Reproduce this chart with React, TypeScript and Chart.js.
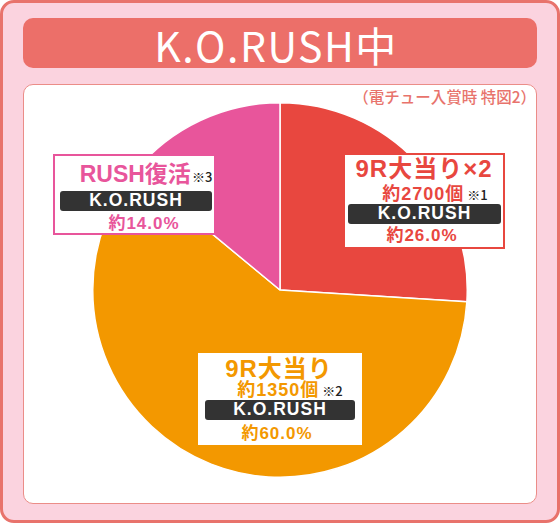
import { useEffect, useRef } from "react"
import { Chart, registerables } from "chart.js"

Chart.register(...registerables)

// Slices, clockwise from 12 o'clock
const categories = ["9R大当り×2", "9R大当り", "RUSH復活"]
const shares = [26.0, 60.0, 14.0]
const payouts = ["約2700個", "約1350個", ""]
const notes = ["※1", "※2", "※3"]
const modeLabel = "K.O.RUSH"
const sliceColors = ["#e8473f", "#f39800", "#e8559b"]

const JP = '"Noto Sans CJK JP", "Noto Sans", sans-serif'
const MIX = '"Liberation Sans", Arial, "Noto Sans CJK JP", sans-serif'

type LabelProps = {
  idx: number
  box: { left: number; top: number; width: number; height: number }
  border: string
  rows: { title: number; payout?: number; payoutX?: number; bar: number; share: number }
  cx: number
  barX: [number, number]
  titleSize: number
  titleSpacing: number
}

function SliceLabel({ idx, box, border, rows, cx, barX, titleSize, titleSpacing }: LabelProps) {
  const color = sliceColors[idx]
  const line = (y: number, x: number): React.CSSProperties => ({
    position: "absolute",
    left: x,
    top: y,
    transform: "translate(-50%, -50%)",
    lineHeight: 1,
    whiteSpace: "nowrap",
  })
  const note = { fontFamily: JP, fontSize: 13, color: "#222", fontWeight: 500, letterSpacing: 0 }
  return (
    <>
      <div
        style={{
          position: "absolute",
          left: box.left,
          top: box.top,
          width: box.width,
          height: box.height,
          background: "#fff",
          border: `2px solid ${border}`,
          boxSizing: "border-box",
        }}
      />
      <div
        style={{
          ...line(rows.title, cx),
          fontFamily: MIX,
          fontWeight: 700,
          fontSize: titleSize,
          color,
          letterSpacing: titleSpacing,
        }}
      >
        {categories[idx]}
        {payouts[idx] === "" && <span style={{ ...note, marginLeft: 1 }}>{notes[idx]}</span>}
      </div>
      {payouts[idx] !== "" && rows.payout !== undefined && (
        <div
          style={{
            ...line(rows.payout, rows.payoutX ?? cx),
            fontFamily: MIX,
            fontWeight: 700,
            fontSize: 18,
            color,
            letterSpacing: 1,
          }}
        >
          {payouts[idx]}
          <span style={{ ...note, marginLeft: 3 }}>{notes[idx]}</span>
        </div>
      )}
      <div
        style={{
          position: "absolute",
          left: barX[0],
          top: rows.bar - 10,
          width: barX[1] - barX[0],
          height: 20,
          background: "#333333",
          borderRadius: 3,
        }}
      />
      <div
        style={{
          ...line(rows.bar, (barX[0] + barX[1]) / 2),
          fontFamily: MIX,
          fontWeight: 700,
          fontSize: 17.5,
          color: "#fff",
          letterSpacing: 1,
        }}
      >
        {modeLabel}
      </div>
      <div
        style={{
          ...line(rows.share, cx - 2),
          fontFamily: MIX,
          fontWeight: 700,
          fontSize: 17,
          color,
          letterSpacing: 1,
        }}
      >
        約{shares[idx].toFixed(1)}%
      </div>
    </>
  )
}

export default function App() {
  const chartRef = useRef<HTMLCanvasElement>(null)
  const chartInstance = useRef<Chart | null>(null)

  useEffect(() => {
    if (!chartRef.current) return
    if (chartInstance.current) chartInstance.current.destroy()

    chartInstance.current = new Chart(chartRef.current, {
      type: "pie",
      data: {
        labels: categories,
        datasets: [
          {
            data: shares,
            backgroundColor: sliceColors,
            borderColor: "#ffffff",
            borderWidth: 1.5,
          },
        ],
      },
      options: {
        animation: false,
        responsive: false,
        maintainAspectRatio: false,
        layout: { padding: 0 },
        plugins: {
          legend: { display: false },
          tooltip: { enabled: false },
        },
      },
    })

    return () => {
      if (chartInstance.current) {
        chartInstance.current.destroy()
        chartInstance.current = null
      }
    }
  }, [])

  return (
    <div
      style={{
        position: "absolute",
        left: 0,
        top: 0,
        width: 560,
        height: 523,
        background: "#fbd3df",
        border: "3px solid #e8736c",
        borderRadius: 14,
        boxSizing: "border-box",
        overflow: "hidden",
      }}
    >
      <div style={{ position: "absolute", left: -3, top: -3, width: 560, height: 523 }}>
        {/* header */}
        <div
          style={{
            position: "absolute",
            left: 23,
            top: 18,
            width: 514,
            height: 50,
            background: "#ec6f69",
            borderRadius: 10,
          }}
        />
        <div
          style={{
            position: "absolute",
            left: 276,
            top: 44,
            transform: "translate(-50%, -50%)",
            lineHeight: 1,
            whiteSpace: "nowrap",
            fontFamily: JP,
            fontWeight: 400,
            fontSize: 41,
            color: "#fff",
            letterSpacing: 1.5,
          }}
        >
          K.O.RUSH中
        </div>
        {/* panel */}
        <div
          style={{
            position: "absolute",
            left: 23,
            top: 84,
            width: 514,
            height: 420,
            background: "#fff",
            border: "1px solid #eb8d88",
            borderRadius: 10,
            boxSizing: "border-box",
          }}
        />
        <div
          style={{
            position: "absolute",
            right: 24,
            top: 89,
            lineHeight: 1,
            whiteSpace: "nowrap",
            fontFamily: JP,
            fontWeight: 500,
            fontSize: 15.5,
            color: "#e8736c",
          }}
        >
          （電チュー入賞時 特図2）
        </div>
        <div style={{ position: "absolute", left: 92, top: 102, width: 376, height: 376 }}>
          <canvas ref={chartRef} width={376} height={376} style={{ width: 376, height: 376 }} />
        </div>

        <SliceLabel
          idx={0}
          box={{ left: 343, top: 153, width: 162, height: 96 }}
          border="#e8473f"
          rows={{ title: 169, payout: 194, payoutX: 435, bar: 213.5, share: 235 }}
          cx={424}
          barX={[348, 501]}
          titleSize={24}
          titleSpacing={1}
        />
        <SliceLabel
          idx={2}
          box={{ left: 53, top: 154, width: 163, height: 81 }}
          border="#e8559b"
          rows={{ title: 174, bar: 201, share: 222.5 }}
          cx={146}
          barX={[60, 212]}
          titleSize={23}
          titleSpacing={0}
        />
        <SliceLabel
          idx={1}
          box={{ left: 198, top: 353, width: 164, height: 92 }}
          border="#ffffff"
          rows={{ title: 368.5, payout: 390, payoutX: 290, bar: 410, share: 433 }}
          cx={279}
          barX={[205, 355]}
          titleSize={24}
          titleSpacing={1}
        />
      </div>
    </div>
  )
}
